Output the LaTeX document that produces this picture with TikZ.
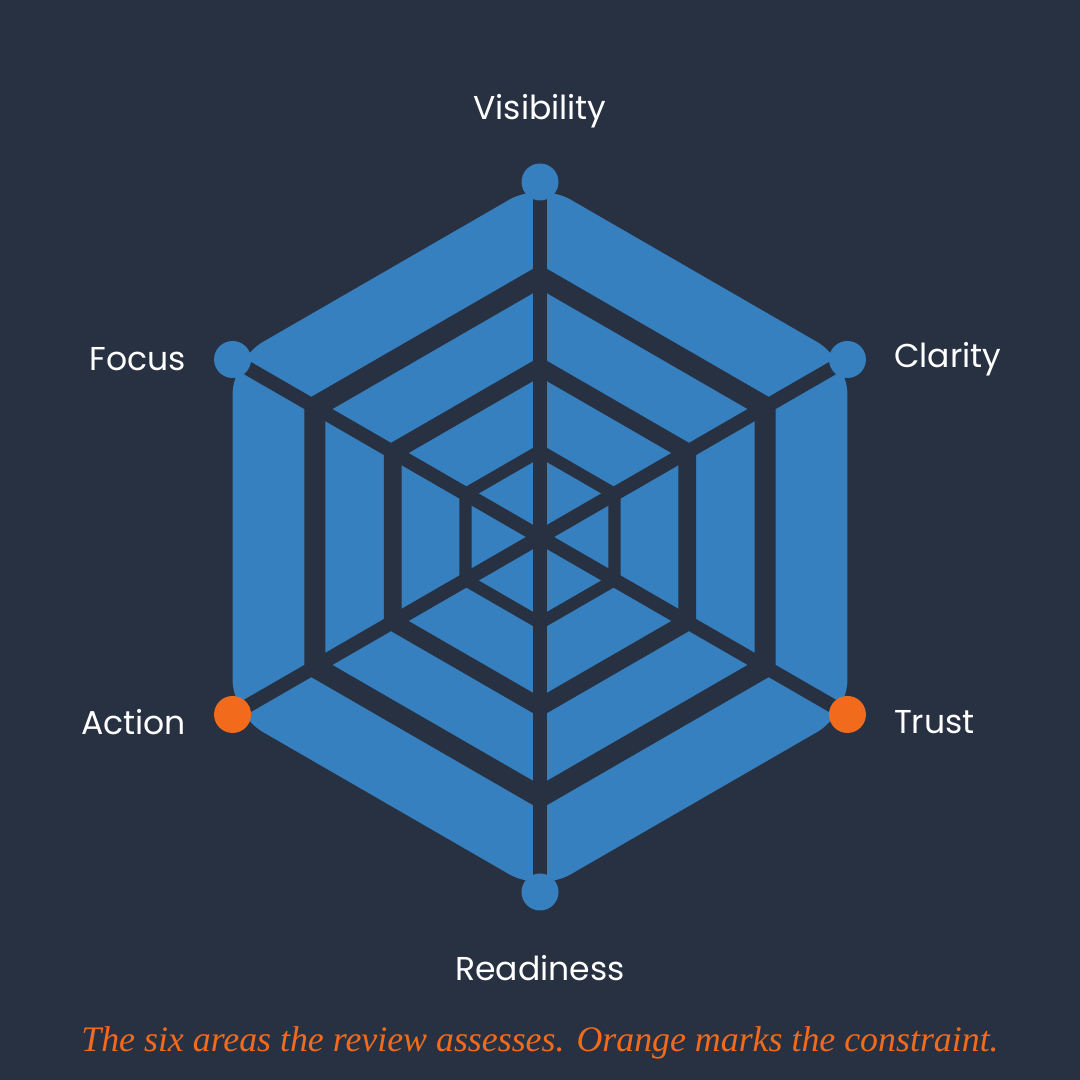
\documentclass[tikz,border=0pt]{standalone}
\usepackage{fontspec}
\setmainfont{Poppins}
\newfontfamily\capfont{Liberation Serif}
\usetikzlibrary{positioning,calc}
\definecolor{bgdark}{HTML}{283142}
\definecolor{webblue}{HTML}{3680C0}
\definecolor{markorange}{HTML}{F26B1D}
\tikzset{
  grid line/.style={draw=bgdark,line join=round,line cap=round},
  axis dot/.style={circle,fill=webblue,minimum size=0.37cm,inner sep=0pt},
  axis label/.style={text=white,font=\fontsize{9.4}{11}\selectfont},
}
\begin{document}
\begin{tikzpicture}[x=1cm,y=1cm]
\fill[bgdark] (0,0) rectangle (10.8,10.8);
\useasboundingbox (0,0) rectangle (10.8,10.8);
\coordinate (c) at (5.4,5.43);
% blue area
\fill[webblue,rounded corners=0.35cm] (c) ++(90:3.55) -- ++(-30:3.55) -- ++(-90:3.55) -- ++(-150:3.55) -- ++(150:3.55) -- ++(90:3.55) -- cycle;
% rings and spokes
\foreach \r/\w in {0.86/3.5pt,1.7/5pt,2.6/6pt}
  \draw[grid line,line width=\w] (c) ++(90:\r) -- ++(-30:\r) -- ++(-90:\r) -- ++(-150:\r) -- ++(150:\r) -- ++(90:\r) -- cycle;
\foreach \a in {90,30,-30,-90,-150,150}
  \draw[grid line,line width=4pt,line cap=butt] (c) -- ++(\a:3.55);
% dots
\node[axis dot] (vis) at ($(c)+(90:3.55)$) {};
\node[axis dot] (cla) at ($(c)+(30:3.55)$) {};
\node[axis dot,fill=markorange] (tru) at ($(c)+(-30:3.55)$) {};
\node[axis dot] (rea) at ($(c)+(-90:3.55)$) {};
\node[axis dot,fill=markorange] (act) at ($(c)+(-150:3.55)$) {};
\node[axis dot] (foc) at ($(c)+(150:3.55)$) {};
% labels
\node[axis label,above=0.22cm of vis] (visl) {Visibility};
\node[axis label,right=0.15cm of cla] (clal) {Clarity};
\node[axis label,right=0.15cm of tru,yshift=-0.08cm] (trul) {Trust};
\node[axis label,below=0.32cm of rea] (real) {Readiness};
\node[axis label,left=0.15cm of act,yshift=-0.08cm] (actl) {Action};
\node[axis label,left=0.15cm of foc] (focl) {Focus};
\node[text=markorange,font=\capfont\itshape\fontsize{10.2}{12}\selectfont] (cap) at (5.4,0.37) {The six areas the review assesses. Orange marks the constraint.};
\end{tikzpicture}
\end{document}
